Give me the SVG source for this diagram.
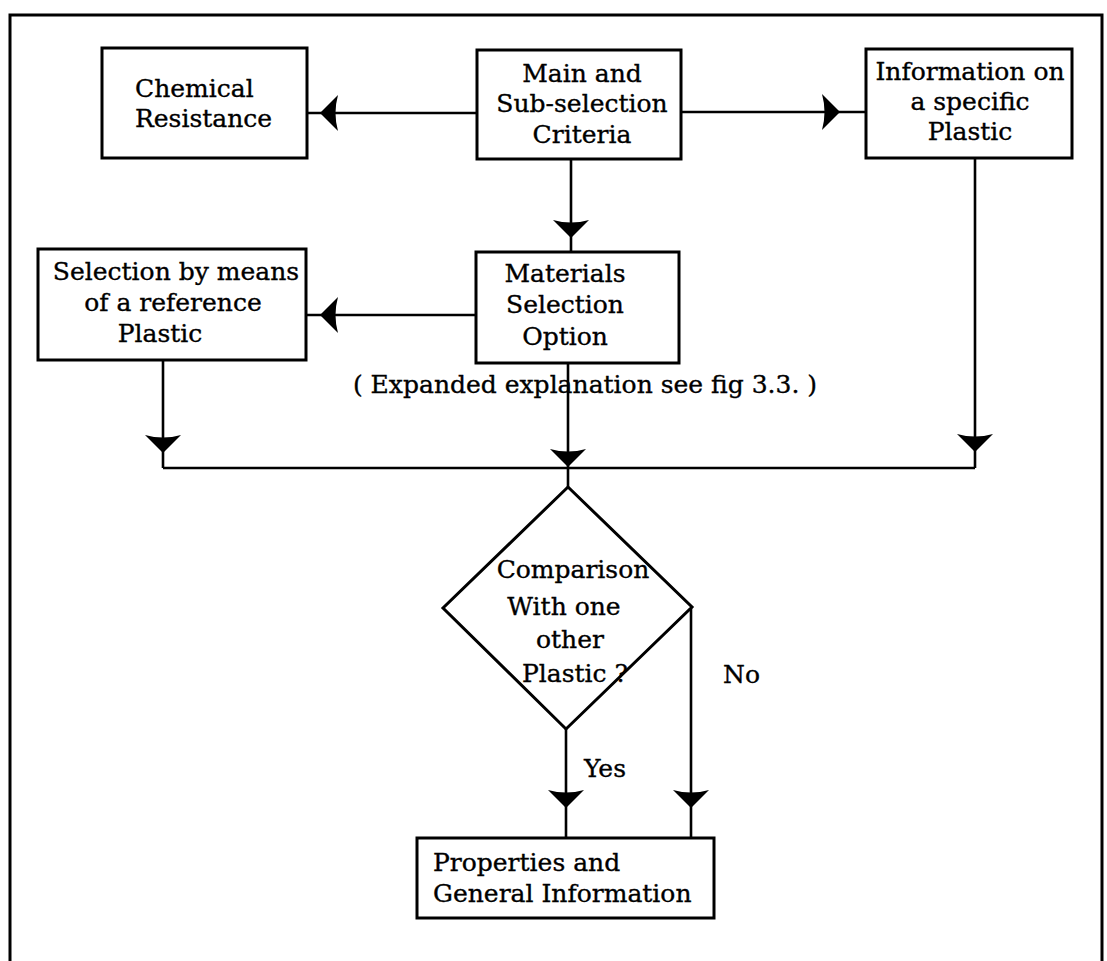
<svg xmlns="http://www.w3.org/2000/svg" xmlns:xlink="http://www.w3.org/1999/xlink" width="1107" height="961" viewBox="0 0 1107 961">
  <style>
    .box { fill: #fff; stroke: #000; stroke-width: 3; }
    .line { fill: none; stroke: #000; stroke-width: 2.6; }
    .frame { fill: none; stroke: #000; stroke-width: 3; }
    text { font-family: "DejaVu Serif", "Liberation Serif", serif; font-size: 25px; fill: #000; stroke: #000; stroke-width: 0.35; }
    .c { text-anchor: middle; }
  </style>
  <defs>
    <!-- arrowhead pointing along +x, tip at origin -->
    <path id="ah" d="M0,0 L-18,-18 Q-13,0 -18,18 Z" fill="#000"/>
  </defs>

  <rect width="1107" height="961" fill="#fff"/>
  <path class="frame" d="M10,961 L10,15 L1102,15 L1102,961"/>

  <g id="connectors">
    <path class="line" d="M477,113 L307,113"/>
    <path class="line" d="M681,112 L866,112"/>
    <path class="line" d="M571,159 L571,252"/>
    <path class="line" d="M476,315 L306,315"/>
    <path class="line" d="M163,360 L163,468"/>
    <path class="line" d="M568,363 L568,487"/>
    <path class="line" d="M975,158 L975,468"/>
    <path class="line" d="M163,468 L975,468"/>
    <path class="line" d="M566,729 L566,838"/>
    <path class="line" d="M691,607 L691,838"/>
    <use xlink:href="#ah" transform="translate(320,113) rotate(180)"/>
    <use xlink:href="#ah" transform="translate(840,112)"/>
    <use xlink:href="#ah" transform="translate(571,238) rotate(90)"/>
    <use xlink:href="#ah" transform="translate(320,315) rotate(180)"/>
    <use xlink:href="#ah" transform="translate(163,453) rotate(90)"/>
    <use xlink:href="#ah" transform="translate(568,467) rotate(90)"/>
    <use xlink:href="#ah" transform="translate(975,452) rotate(90)"/>
    <use xlink:href="#ah" transform="translate(566,808) rotate(90)"/>
    <use xlink:href="#ah" transform="translate(691,808) rotate(90)"/>
    <text x="585" y="393" class="c">( Expanded explanation see fig 3.3. )</text>
    <text x="584" y="777">Yes</text>
    <text x="723" y="683">No</text>
  </g>

  <g id="chemical">
    <rect class="box" x="102" y="48" width="205" height="110"/>
    <text x="135" y="97">Chemical</text>
    <text x="135" y="127">Resistance</text>
  </g>

  <g id="criteria">
    <rect class="box" x="477" y="50" width="204" height="109"/>
    <text x="582" y="82" class="c">Main and</text>
    <text x="582" y="112" class="c">Sub-selection</text>
    <text x="582" y="143" class="c">Criteria</text>
  </g>

  <g id="specific">
    <rect class="box" x="866" y="49" width="206" height="109"/>
    <text x="970" y="80" class="c">Information on</text>
    <text x="970" y="110" class="c">a specific</text>
    <text x="970" y="140" class="c">Plastic</text>
  </g>

  <g id="reference">
    <rect class="box" x="38" y="249" width="268" height="111"/>
    <text x="176" y="280" class="c">Selection by means</text>
    <text x="173" y="311" class="c">of a reference</text>
    <text x="160" y="342" class="c">Plastic</text>
  </g>

  <g id="option">
    <rect class="box" x="476" y="252" width="203" height="111"/>
    <text x="565" y="282" class="c">Materials</text>
    <text x="565" y="313" class="c">Selection</text>
    <text x="565" y="345" class="c">Option</text>
  </g>

  <g id="comparison">
    <path class="box" d="M568,487 L692,607 L566,729 L443,608 Z"/>
    <text x="573" y="578" class="c">Comparison</text>
    <text x="564" y="615" class="c">With one</text>
    <text x="570" y="648" class="c">other</text>
    <text x="575" y="682" class="c">Plastic ?</text>
  </g>

  <g id="properties">
    <rect class="box" x="417" y="838" width="297" height="80"/>
    <text x="433" y="871">Properties and</text>
    <text x="433" y="902">General Information</text>
  </g>
</svg>
